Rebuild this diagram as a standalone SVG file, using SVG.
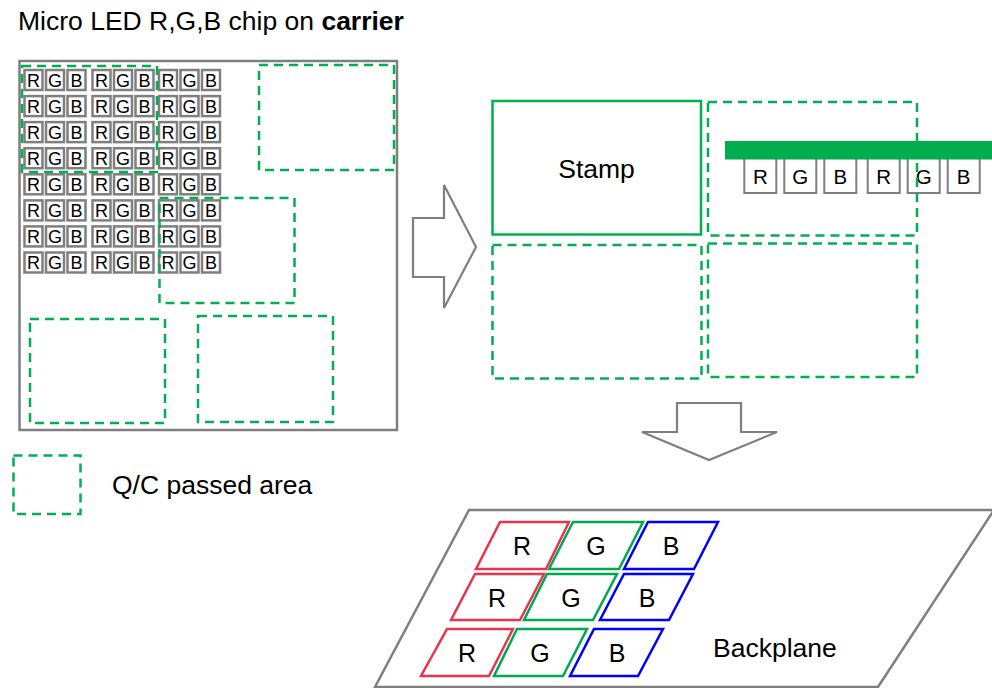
<svg xmlns="http://www.w3.org/2000/svg" width="992" height="688" viewBox="0 0 992 688">
<style>
text{font-family:"Liberation Sans",Arial,sans-serif;fill:#000}
.lbl{font-size:26.5px}
.chip rect{fill:#fff;stroke:#7f7f7f;stroke-width:2.5}
.chip text{font-size:18px;text-anchor:middle}
.schip rect{fill:#fff;stroke:#7f7f7f;stroke-width:2}
.schip text{font-size:20.5px;text-anchor:middle}
.qc{fill:none;stroke:#00B050;stroke-width:2.5;stroke-dasharray:9 6}
.box{fill:none;stroke:#7f7f7f;stroke-width:2.5}
.arrow{fill:#fff;stroke:#7f7f7f;stroke-width:2.2;stroke-linejoin:miter}
.pxt{font-size:25px;text-anchor:middle}
</style>

<text id="title" class="lbl" x="18" y="30">Micro LED R,G,B chip on <tspan font-weight="bold">carrier</tspan></text>

<g id="carrier">
<rect class="box" x="19.5" y="61" width="377.5" height="369" fill="#fff"/>
<g id="chip-grid" class="chip">
<g transform="translate(0,80)"><rect x="24.5" y="-10" width="18" height="20"/><rect x="46" y="-10" width="18" height="20"/><rect x="67.5" y="-10" width="18" height="20"/><rect x="92.5" y="-10" width="18" height="20"/><rect x="114" y="-10" width="18" height="20"/><rect x="135.5" y="-10" width="18" height="20"/><rect x="159" y="-10" width="18" height="20"/><rect x="180.5" y="-10" width="18" height="20"/><rect x="202" y="-10" width="18" height="20"/><text x="33.5" y="6.5">R</text><text x="55" y="6.5">G</text><text x="76.5" y="6.5">B</text><text x="101.5" y="6.5">R</text><text x="123" y="6.5">G</text><text x="144.5" y="6.5">B</text><text x="168" y="6.5">R</text><text x="189.5" y="6.5">G</text><text x="211" y="6.5">B</text></g>
<g transform="translate(0,106.1)"><rect x="24.5" y="-10" width="18" height="20"/><rect x="46" y="-10" width="18" height="20"/><rect x="67.5" y="-10" width="18" height="20"/><rect x="92.5" y="-10" width="18" height="20"/><rect x="114" y="-10" width="18" height="20"/><rect x="135.5" y="-10" width="18" height="20"/><rect x="159" y="-10" width="18" height="20"/><rect x="180.5" y="-10" width="18" height="20"/><rect x="202" y="-10" width="18" height="20"/><text x="33.5" y="6.5">R</text><text x="55" y="6.5">G</text><text x="76.5" y="6.5">B</text><text x="101.5" y="6.5">R</text><text x="123" y="6.5">G</text><text x="144.5" y="6.5">B</text><text x="168" y="6.5">R</text><text x="189.5" y="6.5">G</text><text x="211" y="6.5">B</text></g>
<g transform="translate(0,132.1)"><rect x="24.5" y="-10" width="18" height="20"/><rect x="46" y="-10" width="18" height="20"/><rect x="67.5" y="-10" width="18" height="20"/><rect x="92.5" y="-10" width="18" height="20"/><rect x="114" y="-10" width="18" height="20"/><rect x="135.5" y="-10" width="18" height="20"/><rect x="159" y="-10" width="18" height="20"/><rect x="180.5" y="-10" width="18" height="20"/><rect x="202" y="-10" width="18" height="20"/><text x="33.5" y="6.5">R</text><text x="55" y="6.5">G</text><text x="76.5" y="6.5">B</text><text x="101.5" y="6.5">R</text><text x="123" y="6.5">G</text><text x="144.5" y="6.5">B</text><text x="168" y="6.5">R</text><text x="189.5" y="6.5">G</text><text x="211" y="6.5">B</text></g>
<g transform="translate(0,158.2)"><rect x="24.5" y="-10" width="18" height="20"/><rect x="46" y="-10" width="18" height="20"/><rect x="67.5" y="-10" width="18" height="20"/><rect x="92.5" y="-10" width="18" height="20"/><rect x="114" y="-10" width="18" height="20"/><rect x="135.5" y="-10" width="18" height="20"/><rect x="159" y="-10" width="18" height="20"/><rect x="180.5" y="-10" width="18" height="20"/><rect x="202" y="-10" width="18" height="20"/><text x="33.5" y="6.5">R</text><text x="55" y="6.5">G</text><text x="76.5" y="6.5">B</text><text x="101.5" y="6.5">R</text><text x="123" y="6.5">G</text><text x="144.5" y="6.5">B</text><text x="168" y="6.5">R</text><text x="189.5" y="6.5">G</text><text x="211" y="6.5">B</text></g>
<g transform="translate(0,184.3)"><rect x="24.5" y="-10" width="18" height="20"/><rect x="46" y="-10" width="18" height="20"/><rect x="67.5" y="-10" width="18" height="20"/><rect x="92.5" y="-10" width="18" height="20"/><rect x="114" y="-10" width="18" height="20"/><rect x="135.5" y="-10" width="18" height="20"/><rect x="159" y="-10" width="18" height="20"/><rect x="180.5" y="-10" width="18" height="20"/><rect x="202" y="-10" width="18" height="20"/><text x="33.5" y="6.5">R</text><text x="55" y="6.5">G</text><text x="76.5" y="6.5">B</text><text x="101.5" y="6.5">R</text><text x="123" y="6.5">G</text><text x="144.5" y="6.5">B</text><text x="168" y="6.5">R</text><text x="189.5" y="6.5">G</text><text x="211" y="6.5">B</text></g>
<g transform="translate(0,210.4)"><rect x="24.5" y="-10" width="18" height="20"/><rect x="46" y="-10" width="18" height="20"/><rect x="67.5" y="-10" width="18" height="20"/><rect x="92.5" y="-10" width="18" height="20"/><rect x="114" y="-10" width="18" height="20"/><rect x="135.5" y="-10" width="18" height="20"/><rect x="159" y="-10" width="18" height="20"/><rect x="180.5" y="-10" width="18" height="20"/><rect x="202" y="-10" width="18" height="20"/><text x="33.5" y="6.5">R</text><text x="55" y="6.5">G</text><text x="76.5" y="6.5">B</text><text x="101.5" y="6.5">R</text><text x="123" y="6.5">G</text><text x="144.5" y="6.5">B</text><text x="168" y="6.5">R</text><text x="189.5" y="6.5">G</text><text x="211" y="6.5">B</text></g>
<g transform="translate(0,236.4)"><rect x="24.5" y="-10" width="18" height="20"/><rect x="46" y="-10" width="18" height="20"/><rect x="67.5" y="-10" width="18" height="20"/><rect x="92.5" y="-10" width="18" height="20"/><rect x="114" y="-10" width="18" height="20"/><rect x="135.5" y="-10" width="18" height="20"/><rect x="159" y="-10" width="18" height="20"/><rect x="180.5" y="-10" width="18" height="20"/><rect x="202" y="-10" width="18" height="20"/><text x="33.5" y="6.5">R</text><text x="55" y="6.5">G</text><text x="76.5" y="6.5">B</text><text x="101.5" y="6.5">R</text><text x="123" y="6.5">G</text><text x="144.5" y="6.5">B</text><text x="168" y="6.5">R</text><text x="189.5" y="6.5">G</text><text x="211" y="6.5">B</text></g>
<g transform="translate(0,262.5)"><rect x="24.5" y="-10" width="18" height="20"/><rect x="46" y="-10" width="18" height="20"/><rect x="67.5" y="-10" width="18" height="20"/><rect x="92.5" y="-10" width="18" height="20"/><rect x="114" y="-10" width="18" height="20"/><rect x="135.5" y="-10" width="18" height="20"/><rect x="159" y="-10" width="18" height="20"/><rect x="180.5" y="-10" width="18" height="20"/><rect x="202" y="-10" width="18" height="20"/><text x="33.5" y="6.5">R</text><text x="55" y="6.5">G</text><text x="76.5" y="6.5">B</text><text x="101.5" y="6.5">R</text><text x="123" y="6.5">G</text><text x="144.5" y="6.5">B</text><text x="168" y="6.5">R</text><text x="189.5" y="6.5">G</text><text x="211" y="6.5">B</text></g>
</g>
<g id="carrier-qc">
<rect class="qc" x="22" y="66" width="135" height="106"/>
<rect class="qc" x="259" y="65" width="135" height="105"/>
<rect class="qc" x="159.5" y="198" width="135" height="105"/>
<rect class="qc" x="30" y="319" width="135" height="104"/>
<rect class="qc" x="198" y="316" width="135" height="106"/>
</g>
</g>

<g id="legend">
<rect class="qc" x="13.5" y="455.5" width="67" height="58.5"/>
<text class="lbl" x="112" y="494">Q/C passed area</text>
</g>

<g id="stamp">
<rect x="492.5" y="101" width="208.5" height="133.5" fill="none" stroke="#00B050" stroke-width="2.5"/>
<text class="lbl" x="596.5" y="178" text-anchor="middle">Stamp</text>
</g>

<g id="stamp-chips" class="schip">
<rect x="744.3" y="158" width="32" height="35"/><rect x="784.3" y="158" width="32" height="35"/><rect x="824.3" y="158" width="32" height="35"/><rect x="867.7" y="158" width="32" height="35"/><rect x="907.7" y="158" width="32" height="35"/><rect x="947.7" y="158" width="32" height="35"/>
<text x="760.3" y="184">R</text><text x="800.3" y="184">G</text><text x="840.3" y="184">B</text><text x="883.7" y="184">R</text><text x="923.7" y="184">G</text><text x="963.7" y="184">B</text>
</g>
<rect id="stamp-bar" x="725" y="141" width="270" height="18.5" fill="#00AC4E"/>

<g id="stamp-qc">
<rect class="qc" x="708" y="102" width="209" height="133.5"/>
<rect class="qc" x="492.5" y="245" width="209" height="133.5"/>
<rect class="qc" x="708" y="243.5" width="209" height="133.5"/>
</g>

<g id="backplane">
<polygon class="box" points="469,510 994,510 878,687 375,687" fill="#fff"/>
<g fill="#fff" stroke-width="2.5">
<polygon points="500,522 569,522 546,569 476,569" stroke="#E8334F"/>
<polygon points="573,522 643,522 619,569 549,569" stroke="#00A84F"/>
<polygon points="648,522 718,522 694,569 624,569" stroke="#0000FF"/>
<polygon points="475,574 544,574 520,620 451,620" stroke="#E8334F"/>
<polygon points="547,574 617,574 593,620 524,620" stroke="#00A84F"/>
<polygon points="624,574 693,574 669,620 600,620" stroke="#0000FF"/>
<polygon points="447,629 513,629 489,676 421,676" stroke="#E8334F"/>
<polygon points="517,629 587,629 563,676 494,676" stroke="#00A84F"/>
<polygon points="594,629 663,629 638,676 570,676" stroke="#0000FF"/>
</g>
<text class="pxt" x="522" y="555">R</text>
<text class="pxt" x="596" y="555">G</text>
<text class="pxt" x="671" y="555">B</text>
<text class="pxt" x="497" y="607">R</text>
<text class="pxt" x="571" y="607">G</text>
<text class="pxt" x="647" y="607">B</text>
<text class="pxt" x="467" y="662">R</text>
<text class="pxt" x="540" y="662">G</text>
<text class="pxt" x="617" y="662">B</text>
<text class="lbl" x="713" y="657">Backplane</text>
</g>

<g id="connectors">
<polygon class="arrow" points="413,218 444,218 444,185 476,247 444,308 444,277 413,277"/>
<polygon class="arrow" points="677,403 741,403 741,432 777,432 709,460 642,432 677,432"/>
</g>
</svg>
